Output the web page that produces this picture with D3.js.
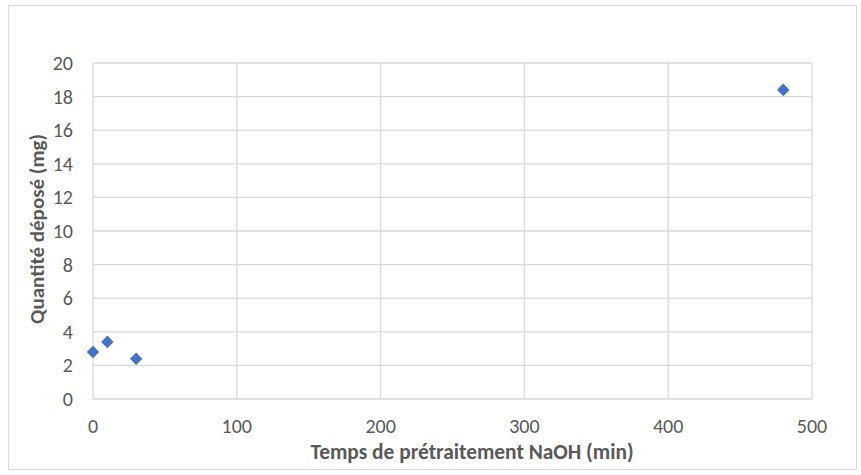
<!DOCTYPE html>
<html><head><meta charset="utf-8">
<script src="https://cdn.jsdelivr.net/npm/d3@7"></script>
<style>body{margin:0;background:#fff;} svg{display:block;font-family:Carlito,Calibri,Lato,sans-serif;}</style>
</head><body>
<svg id="c" width="861" height="475"></svg>
<script>
const xValues = [0, 10, 30, 480];
const yValues = [2.8, 3.4, 2.4, 18.4];
const xTicks = [0, 100, 200, 300, 400, 500];
const yTicks = [0, 2, 4, 6, 8, 10, 12, 14, 16, 18, 20];
const xTitle = "Temps de prétraitement NaOH (min)";
const yTitle = "Quantité déposé (mg)";

const svg = d3.select("#c");
svg.append("rect").attr("x", 8.5).attr("y", 5.5).attr("width", 848).attr("height", 464)
  .attr("fill", "#fff").attr("stroke", "#d9d9d9").attr("stroke-width", 1);

const L = 93, R = 812, T = 63, B = 399;
const x = d3.scaleLinear().domain([0, 500]).range([L, R]);
const y = d3.scaleLinear().domain([0, 20]).range([B, T]);

const g = svg.append("g");
g.selectAll("line.h").data(yTicks).join("line")
  .attr("x1", L).attr("x2", R).attr("y1", d => y(d)).attr("y2", d => y(d))
  .attr("stroke", "#d9d9d9").attr("stroke-width", 1.3);
g.selectAll("line.v").data(xTicks).join("line")
  .attr("y1", T).attr("y2", B).attr("x1", d => x(d)).attr("x2", d => x(d))
  .attr("stroke", "#d9d9d9").attr("stroke-width", 1.3);

g.selectAll("text.yt").data(yTicks).join("text")
  .attr("x", 73).attr("y", d => y(d)).attr("dy", "0.35em")
  .attr("text-anchor", "end").attr("fill", "#595959").attr("font-size", 20).text(d => d);
g.selectAll("text.xt").data(xTicks).join("text")
  .attr("x", d => x(d)).attr("y", 433)
  .attr("text-anchor", "middle").attr("fill", "#595959").attr("font-size", 20).text(d => d);

svg.append("text").attr("x", 472).attr("y", 459).attr("text-anchor", "middle")
  .attr("font-weight", "bold").attr("font-size", 21.4).attr("fill", "#595959").text(xTitle);
svg.append("text").attr("transform", `translate(44,229) rotate(-90)`)
  .attr("text-anchor", "middle").attr("font-weight", "bold").attr("font-size", 21)
  .attr("fill", "#595959").text(yTitle);

const sym = d3.symbol().type(d3.symbolDiamond2).size(100);
svg.selectAll("path.pt").data(xValues.map((v, i) => [v, yValues[i]])).join("path")
  .attr("d", sym).attr("transform", d => `translate(${x(d[0])},${y(d[1])})`)
  .attr("fill", "#4472c4");
</script>
</body></html>
